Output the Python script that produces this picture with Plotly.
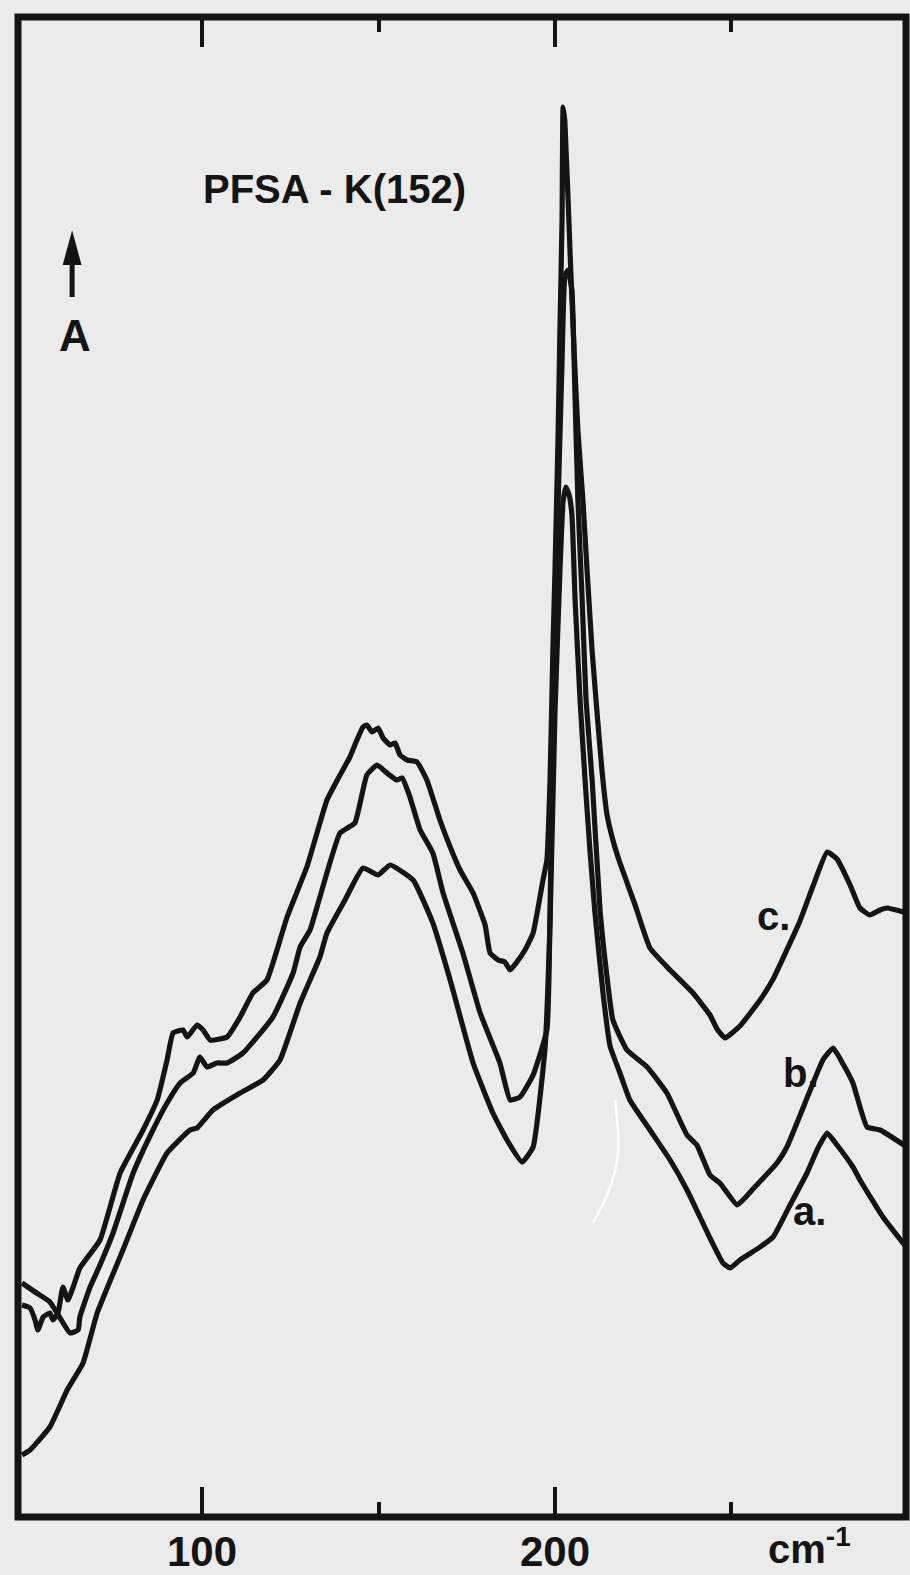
import plotly.graph_objects as go

# ---- Data (wavenumber in cm-1, absorbance in arbitrary units) ----
c_wavenumber = [49.0, 51.3, 52.7, 53.5, 55.0, 56.9, 57.8, 59.2, 60.6, 62.0, 63.5, 65.4, 71.1, 76.8, 83.3,
                87.3, 90.1, 91.8, 94.6, 95.8, 98.6, 100.3, 102.3, 107.1, 110.8, 114.4, 118.4, 124.1, 129.7,
                133.4, 135.4, 139.1, 141.9, 143.3, 145.6, 146.7, 148.2, 149.9, 151.3, 153.3, 154.7, 156.1,
                158.1, 160.9, 163.7, 167.4, 170.3, 173.1, 176.8, 180.2, 181.6, 183.9, 185.8, 187.3, 189.2,
                191.5, 193.8, 196.6, 197.7, 198.6, 199.4, 200.0, 200.9, 201.4, 202.0, 202.3, 202.8, 204.3,
                205.4, 206.5, 207.9, 209.1, 210.5, 211.9, 213.3, 214.7, 216.4, 218.4, 222.7, 226.9, 232.6,
                239.1, 243.9, 245.9, 248.2, 252.4, 258.1, 261.8, 269.4, 273.1, 277.1, 279.9, 283.6, 286.4,
                289.2, 292.1, 294.1, 299.7]
c_absorbance = [21.2, 20.9, 19.7, 18.7, 20.0, 20.4, 19.7, 20.4, 23.0, 21.7, 23.0, 24.9, 27.7, 34.4, 38.7,
                41.7, 45.7, 48.4, 48.7, 48.0, 49.2, 48.7, 47.7, 48.0, 50.0, 52.4, 53.7, 60.0, 65.0,
                69.4, 71.7, 74.2, 76.0, 77.2, 79.0, 79.2, 78.5, 78.9, 77.9, 77.2, 77.4, 76.2,
                75.7, 75.5, 73.7, 69.7, 67.0, 64.7, 62.4, 59.2, 56.4, 55.7, 55.5, 54.7, 55.5,
                56.7, 58.4, 63.7, 65.7, 73.7, 86.7, 94.6, 108.6, 118.7, 129.7, 141.0, 139.5, 126.2,
                116.7, 108.6, 101.7, 94.6, 86.7, 80.5, 74.7, 70.3, 67.7, 65.4, 61.2, 56.9, 54.7,
                52.4, 50.2, 48.8, 47.9, 49.1, 51.7, 53.8, 59.6, 63.1, 66.5, 65.8, 63.2, 60.9,
                60.2, 60.7, 60.9, 60.4]

b_wavenumber = [49.0, 52.7, 56.9, 59.8, 62.6, 64.9, 65.4, 68.3, 71.1, 74.8, 80.5, 86.1, 90.1, 93.8, 97.5,
                99.4, 101.4, 104.2, 107.1, 111.6, 120.1, 125.8, 127.8, 130.6, 133.4, 139.1, 143.3, 146.7,
                149.6, 152.4, 155.2, 156.7, 158.9, 161.8, 165.4, 168.3, 173.9, 178.8, 184.4, 187.3, 190.1,
                193.8, 197.7, 198.6, 199.4, 200.3, 200.9, 202.0, 202.8, 203.7, 204.8, 205.7, 206.5, 207.7,
                208.8, 210.5, 212.8, 214.5, 216.4, 220.4, 226.1, 231.7, 237.4, 240.2, 243.9, 246.7, 251.6,
                253.8, 256.1, 262.9, 265.7, 272.2, 275.9, 278.8, 281.6, 284.4, 288.4, 292.1, 299.7]
b_absorbance = [23.4, 22.5, 21.5, 19.9, 18.4, 18.7, 20.0, 23.0, 25.2, 28.4, 34.4, 38.7, 41.4, 43.4, 44.4,
                46.0, 45.0, 45.4, 45.4, 46.4, 50.0, 54.4, 57.0, 58.7, 62.0, 68.4, 69.4, 74.2,
                75.2, 74.4, 73.7, 73.9, 72.0, 68.7, 66.4, 62.4, 56.4, 50.4, 45.4, 41.7, 42.0,
                44.2, 48.7, 60.4, 80.5, 91.7, 101.6, 115.6, 124.1, 124.7, 122.6, 111.7, 101.6, 91.7,
                81.7, 73.8, 60.5, 54.7, 49.7, 46.7, 45.0, 42.4, 38.2, 37.2, 34.2, 33.4, 31.2,
                31.9, 32.8, 35.4, 37.0, 42.6, 45.7, 46.9, 45.3, 43.4, 39.0, 38.7, 37.0]

a_wavenumber = [49.0, 51.3, 56.9, 61.8, 66.3, 70.3, 77.6, 83.3, 90.1, 96.6, 98.6, 103.1, 110.8, 117.3,
                122.1, 127.8, 133.4, 135.4, 140.5, 145.6, 149.9, 153.3, 159.8, 165.4, 170.3, 176.8, 182.4,
                186.4, 190.7, 193.8, 197.2, 198.6, 200.0, 201.4, 202.3, 203.1, 204.0, 204.8, 205.7, 207.1,
                208.5, 209.9, 211.3, 213.6, 215.6, 218.4, 221.2, 226.9, 232.6, 237.4, 243.9, 247.6, 249.6,
                252.4, 258.1, 261.8, 266.6, 271.4, 274.5, 277.1, 279.9, 284.4, 286.4, 292.9, 299.7]
a_absorbance = [6.2, 6.7, 9.0, 12.7, 15.4, 20.4, 26.7, 31.7, 36.4, 38.7, 38.9, 40.7, 42.4, 43.7,
                45.7, 51.4, 56.0, 58.4, 61.7, 64.9, 64.2, 65.2, 63.7, 59.4, 53.7, 45.4, 40.4,
                37.7, 35.5, 37.0, 47.0, 59.5, 80.5, 94.6, 101.6, 103.0, 102.2, 100.2, 91.7, 81.7,
                73.8, 66.7, 60.5, 52.4, 47.1, 44.4, 41.7, 38.7, 35.7, 32.7, 27.9, 25.4, 24.9,
                25.7, 27.0, 28.0, 31.2, 34.4, 36.9, 38.4, 37.2, 35.0, 33.7, 30.0, 26.9]

series = [("a.", a_wavenumber, a_absorbance),
          ("b.", b_wavenumber, b_absorbance),
          ("c.", c_wavenumber, c_absorbance)]

major_ticks = [100, 200]
major_labels = ["100", "200"]
minor_ticks = [150, 250]

INK = "#141414"
PAPER = "#ebebeb"
FONT = "Liberation Sans"

fig = go.Figure()
for name, xs, ys in series:
    fig.add_trace(go.Scatter(x=xs, y=ys, mode="lines", name=name,
                             line=dict(color=INK, width=5.2, shape="spline", smoothing=0.4),
                             showlegend=False, hoverinfo="skip"))

fig.update_layout(
    width=910, height=1575,
    margin=dict(l=18, r=4, t=17, b=58),
    paper_bgcolor=PAPER, plot_bgcolor=PAPER,
    showlegend=False,
)

fig.update_xaxes(
    range=[47.87, 299.44], automargin=False,
    tickmode="array", tickvals=major_ticks, ticktext=major_labels,
    ticks="inside", ticklen=30, tickwidth=3.5, tickcolor=INK,
    mirror="ticks", showline=False, showgrid=False, zeroline=False,
    tickfont=dict(family=FONT, size=42, color=INK, weight="bold"),
    ticklabelstandoff=6,
    minor=dict(tickmode="array", tickvals=minor_ticks, ticks="inside",
               ticklen=15, tickwidth=3.5, tickcolor=INK, showgrid=False),
)
fig.update_yaxes(range=[0, 150], visible=False, automargin=False)

# heavy plot frame
fig.add_shape(type="rect", xref="paper", yref="paper", x0=0, x1=1, y0=0, y1=1,
              line=dict(color=INK, width=7), layer="above")

# arrow beside the "A" (absorbance) label
fig.add_shape(type="line", xref="x", yref="y", x0=63.2, x1=63.2, y0=122.0, y1=126.0,
              line=dict(color=INK, width=5))
fig.add_shape(type="path", xref="x", yref="y",
              path="M 60.9,125.3 L 63.2,128.3 L 65.5,125.3 Z",
              fillcolor=INK, line=dict(color=INK, width=2))

# faint white scratch on the scan
fig.add_shape(type="path", xref="x", yref="y",
              path="M 217.0,41.7 Q 218.3,38.0 217.8,36.2 Q 216.8,33.0 210.8,29.5",
              line=dict(color="white", width=2.5))

txt = dict(family=FONT, color=INK, weight="bold")
fig.add_annotation(x=137.4, y=132.8, xref="x", yref="y", text="PFSA - K(152)",
                   showarrow=False, font=dict(size=40, **txt))
fig.add_annotation(x=64.0, y=118.2, xref="x", yref="y", text="A",
                   showarrow=False, font=dict(size=44, **txt))
fig.add_annotation(x=262.0, y=60.1, xref="x", yref="y", text="c.",
                   showarrow=False, font=dict(size=40, **txt))
fig.add_annotation(x=269.7, y=44.4, xref="x", yref="y", text="b.",
                   showarrow=False, font=dict(size=40, **txt))
fig.add_annotation(x=272.0, y=30.6, xref="x", yref="y", text="a.",
                   showarrow=False, font=dict(size=40, **txt))
fig.add_annotation(x=272.0, y=0, xref="x", yref="paper", yanchor="top", yshift=-2,
                   text="cm<sup>-1</sup>", showarrow=False, font=dict(size=40, **txt))

fig.write_html("out.html",
               config={"displayModeBar": False},
               post_script="document.body.style.margin='0px';document.body.style.overflow='hidden';")
